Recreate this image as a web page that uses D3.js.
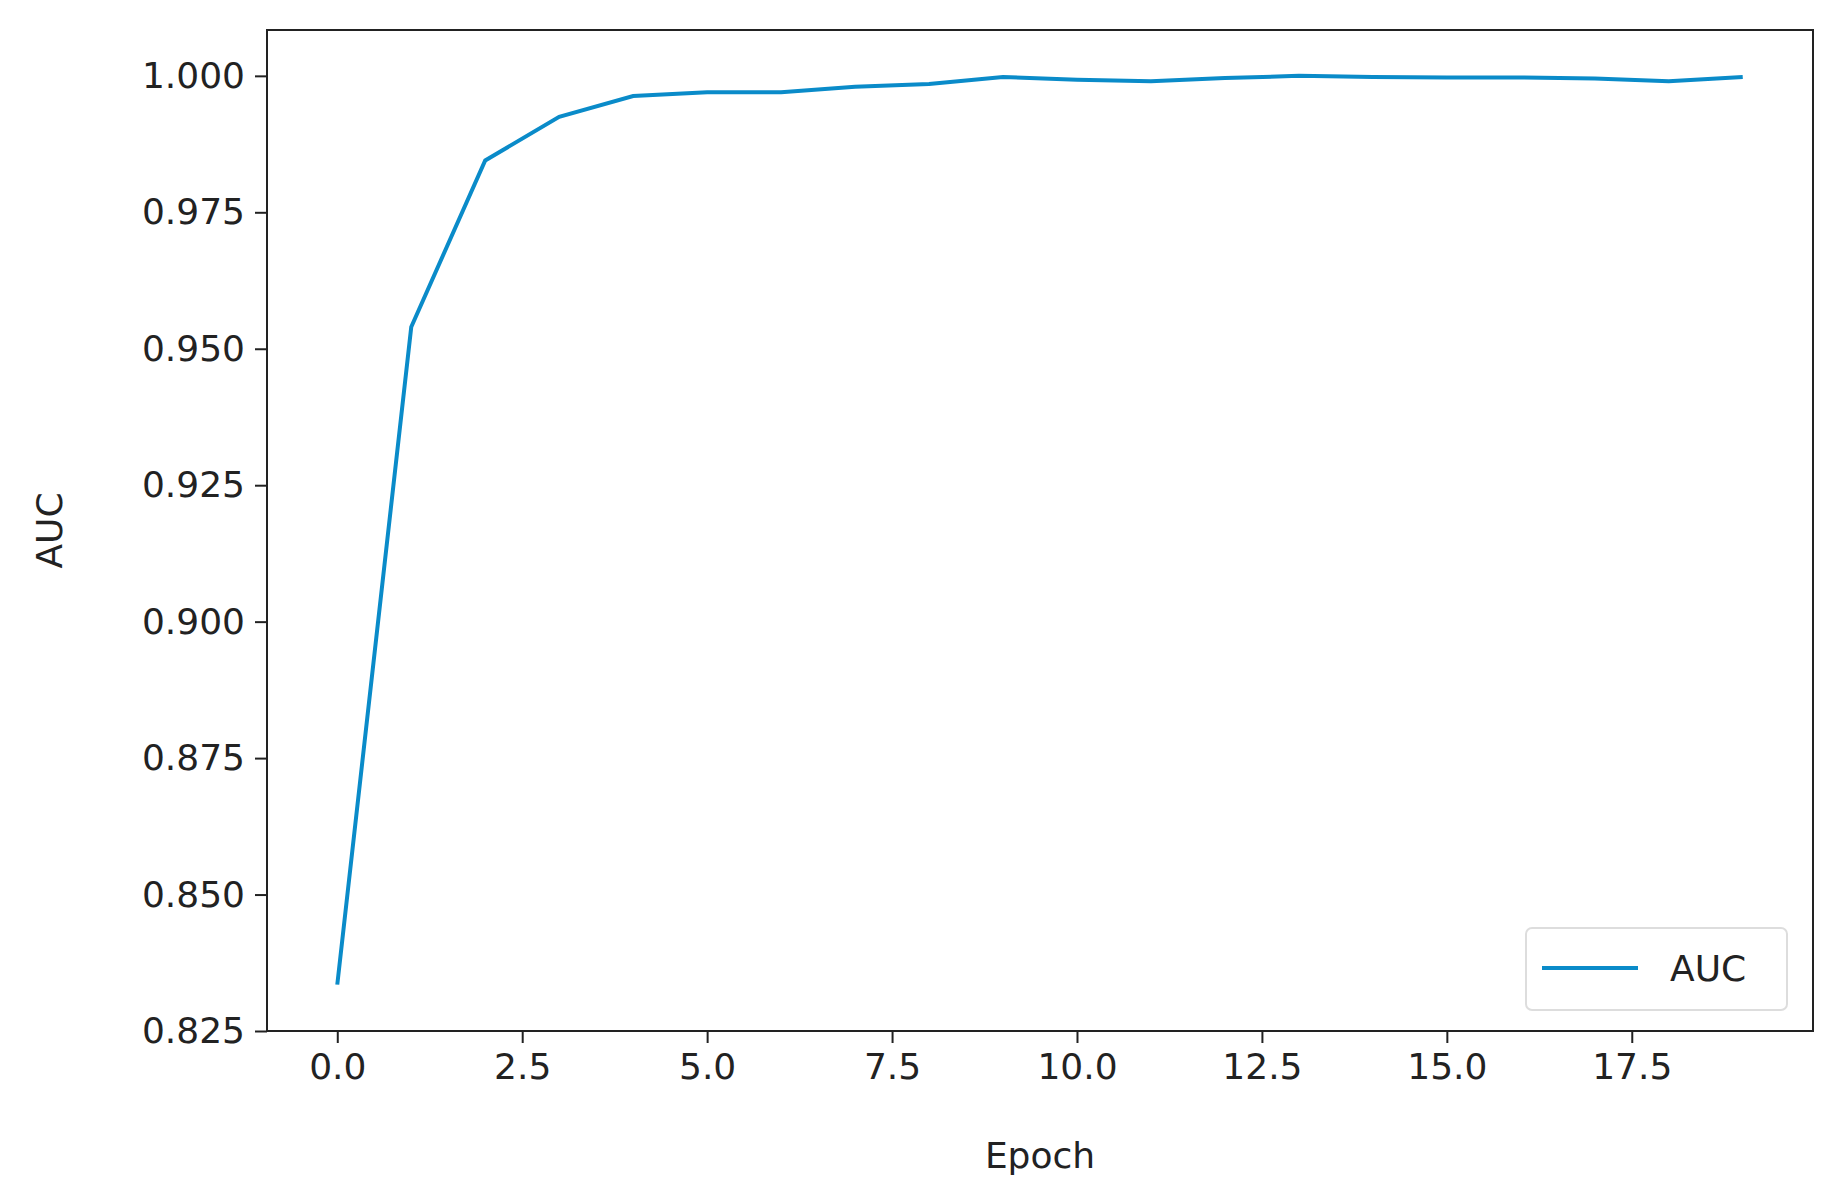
<!DOCTYPE html>
<html><head><meta charset="utf-8">
<script src="https://cdn.jsdelivr.net/npm/d3@7"></script>
<style>body{margin:0;background:#fff}text{font-family:"DejaVu Sans",sans-serif;fill:#222}</style>
</head><body><svg width="1837" height="1190"></svg>
<script>
const epochs = d3.range(20);
const auc = [0.8335, 0.954, 0.9845, 0.9925, 0.9963, 0.997, 0.997, 0.998, 0.9985, 0.9998,
  0.9993, 0.999, 0.9996, 1.0, 0.9998, 0.9997, 0.9997, 0.9995, 0.999, 0.9998];
const xTicks = [0, 2.5, 5, 7.5, 10, 12.5, 15, 17.5];
const yTicks = [0.825, 0.85, 0.875, 0.9, 0.925, 0.95, 0.975, 1.0];

const svg = d3.select("svg");
const mLeft = 267, mRight = 1813, mTop = 30, mBottom = 1031;
const x = d3.scaleLinear().domain([-0.95, 19.95]).range([mLeft, mRight]);
const y = d3.scaleLinear().domain([0.825, 1.0084]).range([mBottom, mTop]);

svg.append("g").attr("transform", `translate(0,${mBottom})`)
  .call(d3.axisBottom(x).tickValues(xTicks).tickFormat(d3.format(".1f")).tickSize(12).tickPadding(10))
  .call(g => g.select(".domain").remove())
  .call(g => g.selectAll("line").attr("stroke", "#222").attr("stroke-width", 2))
  .call(g => g.selectAll("text").style("font-size", "36px"));
svg.append("g").attr("transform", `translate(${mLeft},0)`)
  .call(d3.axisLeft(y).tickValues(yTicks).tickFormat(d3.format(".3f")).tickSize(12).tickPadding(10))
  .call(g => g.select(".domain").remove())
  .call(g => g.selectAll("line").attr("stroke", "#222").attr("stroke-width", 2))
  .call(g => g.selectAll("text").style("font-size", "36px"));

svg.append("path").datum(auc)
  .attr("fill", "none").attr("stroke", "#0a8bc9").attr("stroke-width", 4)
  .attr("d", d3.line().x((d, i) => x(epochs[i])).y(d => y(d)));

svg.append("rect").attr("x", mLeft).attr("y", mTop).attr("width", mRight - mLeft).attr("height", mBottom - mTop)
  .attr("fill", "none").attr("stroke", "#222").attr("stroke-width", 2);

// legend
const lg = svg.append("g").attr("transform", "translate(1526,928)");
lg.append("rect").attr("width", 261).attr("height", 82).attr("rx", 6)
  .attr("fill", "#fff").attr("stroke", "#ddd").attr("stroke-width", 2);
lg.append("line").attr("x1", 16).attr("x2", 112).attr("y1", 40).attr("y2", 40)
  .attr("stroke", "#0a8bc9").attr("stroke-width", 4);
lg.append("text").attr("x", 144).attr("y", 53).style("font-size", "36px").text("AUC");

svg.append("text").attr("x", (mLeft + mRight) / 2).attr("y", 1168).attr("text-anchor", "middle")
  .style("font-size", "36px").text("Epoch");
svg.append("text").attr("transform", `translate(62,${(mTop + mBottom) / 2}) rotate(-90)`)
  .attr("text-anchor", "middle").style("font-size", "36px").text("AUC");
</script></body></html>
